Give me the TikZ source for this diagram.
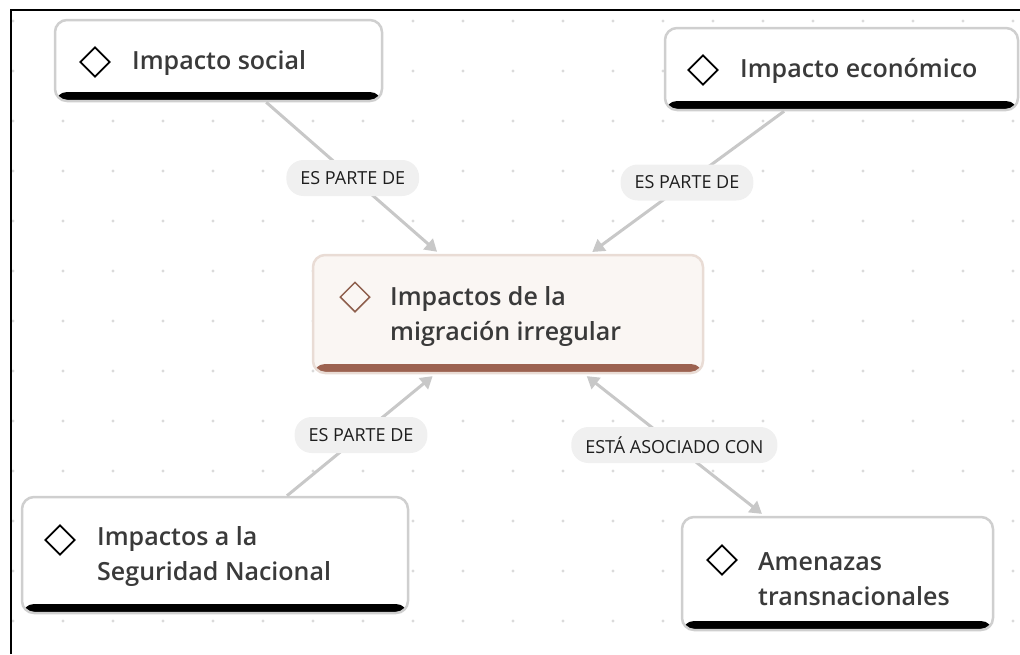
\documentclass[tikz,border=0pt]{standalone}
\usepackage{fontspec}
\setmainfont{Open Sans}
\IfFontExistsTF{Open Sans Semibold}
  {\newfontfamily\semib{Open Sans Semibold}}
  {\IfFontExistsTF{Open Sans SemiBold}
    {\newfontfamily\semib{Open Sans SemiBold}}
    {\newcommand\semib{\bfseries}}}
\usetikzlibrary{arrows.meta, shapes.geometric}
\definecolor{framegray}{HTML}{CFCFCF}
\definecolor{dotgray}{HTML}{DADADA}
\definecolor{linkgray}{HTML}{C8C8C8}
\definecolor{tagfill}{HTML}{F0F0F0}
\definecolor{tagtext}{HTML}{1E1E1E}
\definecolor{nodetext}{HTML}{3A3A3A}
\definecolor{corefill}{HTML}{FAF6F3}
\definecolor{coreline}{HTML}{E9DCD5}
\definecolor{corebar}{HTML}{9C6250}
\definecolor{coreicon}{HTML}{8E5F4D}
\tikzset{
  box/.style={draw=framegray, line width=2.5pt, rounded corners=12pt, fill=white,
              inner sep=0pt, path picture={\fill[#1]
              (path picture bounding box.south west) rectangle
              ([yshift=9pt]path picture bounding box.south east);}},
  box/.default=black,
  core/.style={box=corebar, draw=coreline, fill=corefill},
  gem/.style={diamond, draw=black, line width=1.8pt, minimum size=30pt, inner sep=0pt},
  txt/.style={anchor=west, align=left, inner sep=0pt, text=nodetext,
              font=\semib\fontsize{25}{35}\selectfont},
  tag/.style={fill=tagfill, rounded corners=17pt, inner xsep=14pt, inner ysep=0pt,
              minimum height=36pt, text=tagtext, font=\fontsize{18}{20}\selectfont},
  link/.style={-{Triangle[length=12pt, width=14pt]}, line width=3pt, draw=linkgray,
               shorten >=3pt},
  bilink/.style={{Triangle[length=12pt, width=14pt]}-{Triangle[length=12pt, width=14pt]},
                 line width=3pt, draw=linkgray, shorten >=3pt, shorten <=3pt},
}
\begin{document}
\begin{tikzpicture}[x=1pt, y=-1pt]
  \useasboundingbox (0,0) rectangle (1020,654);
  \foreach \i in {0,...,20}
    \foreach \j in {0,...,12}
      \fill[dotgray] (13+50*\i, 21+50*\j) circle (1.6pt);
  \draw[line width=2pt] (11,654) -- (11,10) -- (1020,10);

  \node[box, minimum width=327pt, minimum height=81pt] (social) at (218.5,60.5) {};
  \node[box, minimum width=353pt, minimum height=82pt] (econ) at (841.5,69) {};
  \node[core, minimum width=390pt, minimum height=118pt] (core) at (508,314) {};
  \node[box, minimum width=386pt, minimum height=116pt] (seg) at (215,555) {};
  \node[box, minimum width=311pt, minimum height=113pt] (amen) at (837.5,573.5) {};

  \node[gem] (social-g) at (95,62) {};
  \node[gem] (econ-g) at (703,70) {};
  \node[gem, draw=coreicon, line width=1.5pt] (core-g) at (355,297) {};
  \node[gem] (seg-g) at (60,540) {};
  \node[gem] (amen-g) at (722,560) {};

  \node[txt] (social-t) at (132,63) {Impacto social};
  \node[txt] (econ-t) at (740,71) {Impacto económico};
  \node[txt] (core-t) at (390,316) {Impactos de la\\migración irregular};
  \node[txt] (seg-t) at (97,556) {Impactos a la\\Seguridad Nacional};
  \node[txt] (amen-t) at (758,579) {Amenazas\\transnacionales};

  \draw[link] (social) -- node[tag] {ES PARTE DE} (core);
  \draw[link] (econ) -- node[tag] {ES PARTE DE} (core);
  \draw[link] (seg) -- node[tag] {ES PARTE DE} (core);
  \draw[bilink] (core) -- node[tag] {ESTÁ ASOCIADO CON} (amen);
\end{tikzpicture}
\end{document}
